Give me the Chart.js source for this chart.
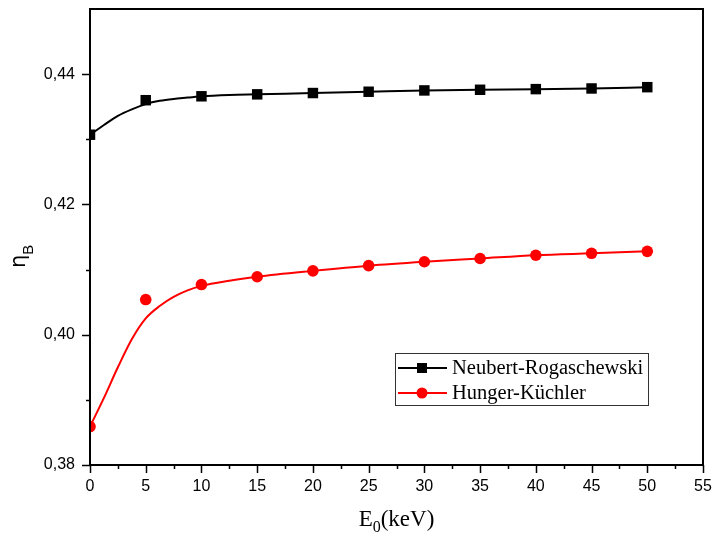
<!DOCTYPE html>
<html>
<head>
<meta charset="utf-8">
<script src="https://cdn.jsdelivr.net/npm/chart.js@4/dist/chart.umd.min.js"></script>
<style>
  html, body { margin: 0; padding: 0; background: #fff; }
  canvas { display: block; }
</style>
</head>
<body>
<canvas id="c" width="715" height="537"></canvas>
<script>
// Primary electron energy E0 (keV)
const energies = [0, 5, 10, 15, 20, 25, 30, 35, 40, 45, 50];

// Backscattering coefficient, measured points
const neubertRogaschewski = [0.4307, 0.4360, 0.4366, 0.4369, 0.4371, 0.4373, 0.4375, 0.4376, 0.4377, 0.4378, 0.4380];
const hungerKuechler      = [0.3859, 0.4054, 0.4077, 0.4089, 0.4098, 0.4106, 0.4112, 0.4117, 0.4122, 0.4125, 0.4128];

// Smoothed fit curves
const fitEnergies = [0, 1.25, 2.5, 3.75, 5, 6.25, 7.5, 8.75, 10, 12.5, 15, 20, 25, 30, 35, 40, 45, 50];
const neubertFit  = [0.4307, 0.4322, 0.4336, 0.4346, 0.4354, 0.4359, 0.4362, 0.4364, 0.4366, 0.4368, 0.4369, 0.4371, 0.4373, 0.4375, 0.4376, 0.4377, 0.4378, 0.4380];
const hungerFit   = [0.3859, 0.3903, 0.3950, 0.3993, 0.4025, 0.4044, 0.4058, 0.4068, 0.4075, 0.4083, 0.4089, 0.4098, 0.4106, 0.4112, 0.4117, 0.4122, 0.4125, 0.4128];

// Axis ticks
const xMajorTicks = [0, 5, 10, 15, 20, 25, 30, 35, 40, 45, 50, 55];
const yMajorTicks = [0.38, 0.40, 0.42, 0.44];
const yMinorTicks = [0.39, 0.41, 0.43];

const seriesNames = ['Neubert-Rogaschewski', 'Hunger-Küchler'];

const BLACK = '#000000';
const RED = '#ff0000';

const pts = (xs, ys) => xs.map((x, i) => ({ x: x, y: ys[i] }));

// Frame, ticks, axis titles and legend
const decorations = {
  id: 'decorations',
  afterDatasetsDraw(chart) {
    const ctx = chart.ctx;
    const a = chart.chartArea;
    const xs = chart.scales.x, ys = chart.scales.y;
    ctx.save();
    ctx.strokeStyle = BLACK;
    ctx.lineWidth = 2;
    ctx.strokeRect(a.left, a.top, a.right - a.left, a.bottom - a.top);

    ctx.lineWidth = 1.5;
    ctx.beginPath();
    xMajorTicks.forEach(v => {
      const p = Math.round(xs.getPixelForValue(v)) + 0.5;
      ctx.moveTo(p, a.bottom); ctx.lineTo(p, a.bottom + 8);
      if (v < 55) {
        const q = Math.round(xs.getPixelForValue(v + 2.5)) + 0.5;
        ctx.moveTo(q, a.bottom); ctx.lineTo(q, a.bottom + 4);
      }
    });
    yMajorTicks.forEach(v => {
      const p = Math.round(ys.getPixelForValue(v)) + 0.5;
      ctx.moveTo(a.left, p); ctx.lineTo(a.left - 8, p);
    });
    yMinorTicks.forEach(v => {
      const p = Math.round(ys.getPixelForValue(v)) + 0.5;
      ctx.moveTo(a.left, p); ctx.lineTo(a.left - 4, p);
    });
    ctx.stroke();

    // x axis title: E0(keV)
    ctx.fillStyle = BLACK;
    ctx.textBaseline = 'alphabetic';
    const big = '23px "Liberation Serif", "Times New Roman", serif';
    const sub = '16px "Liberation Serif", "Times New Roman", serif';
    ctx.font = big;
    const wE = ctx.measureText('E').width;
    const wRest = ctx.measureText('(keV)').width;
    ctx.font = sub;
    const w0 = ctx.measureText('0').width;
    const total = wE + w0 + wRest;
    let tx = (a.left + a.right) / 2 - total / 2;
    const ty = 526;
    ctx.font = big; ctx.fillText('E', tx, ty); tx += wE;
    ctx.font = sub; ctx.fillText('0', tx, ty + 6); tx += w0;
    ctx.font = big; ctx.fillText('(keV)', tx, ty);

    // y axis title: ηB
    ctx.save();
    ctx.translate(25, 268);
    ctx.rotate(-Math.PI / 2);
    ctx.font = '21px "DejaVu Sans", "Liberation Sans", sans-serif';
    ctx.fillText('η', 0, 0);
    const wEta = ctx.measureText('η').width;
    ctx.font = '15px "Liberation Sans", Arial, sans-serif';
    ctx.fillText('B', wEta, 8);
    ctx.restore();

    // legend
    const lx = 395.5, ly = 353.5, lw = 253, lh = 52;
    ctx.lineWidth = 1;
    ctx.strokeStyle = '#333';
    ctx.strokeRect(lx, ly, lw, lh);
    const rows = [
      { name: seriesNames[0], color: BLACK, shape: 'rect', y: 368 },
      { name: seriesNames[1], color: RED, shape: 'circle', y: 393 }
    ];
    ctx.font = '20.5px "Liberation Serif", "Times New Roman", serif';
    ctx.textBaseline = 'middle';
    rows.forEach(r => {
      ctx.strokeStyle = r.color;
      ctx.fillStyle = r.color;
      ctx.lineWidth = 2;
      ctx.beginPath();
      ctx.moveTo(398, r.y); ctx.lineTo(447, r.y);
      ctx.stroke();
      ctx.beginPath();
      if (r.shape === 'rect') {
        ctx.rect(417, r.y - 5, 10, 10);
      } else {
        ctx.arc(422, r.y, 5.5, 0, Math.PI * 2);
      }
      ctx.fill();
      ctx.fillStyle = BLACK;
      ctx.fillText(r.name, 452, r.y + 1);
    });
    ctx.restore();
  }
};

new Chart(document.getElementById('c'), {
  type: 'scatter',
  data: {
    datasets: [
      {
        label: seriesNames[0],
        data: pts(energies, neubertRogaschewski),
        pointStyle: 'rect', pointRadius: 7.4, pointHoverRadius: 7.4,
        backgroundColor: BLACK, borderColor: BLACK, borderWidth: 0,
        showLine: false, order: 0, clip: 0
      },
      {
        label: seriesNames[1],
        data: pts(energies, hungerKuechler),
        pointStyle: 'circle', pointRadius: 5.8, pointHoverRadius: 5.8,
        backgroundColor: RED, borderColor: RED, borderWidth: 0,
        showLine: false, order: 0, clip: 0
      },
      {
        label: seriesNames[0] + ' fit',
        data: pts(fitEnergies, neubertFit),
        showLine: true, pointRadius: 0, borderColor: BLACK, borderWidth: 2,
        cubicInterpolationMode: 'monotone', fill: false, order: 1, clip: 0
      },
      {
        label: seriesNames[1] + ' fit',
        data: pts(fitEnergies, hungerFit),
        showLine: true, pointRadius: 0, borderColor: RED, borderWidth: 2,
        cubicInterpolationMode: 'monotone', fill: false, order: 1, clip: 0
      }
    ]
  },
  options: {
    responsive: false,
    animation: false,
    devicePixelRatio: 1,
    layout: { padding: { top: 9, right: 12, left: 0, bottom: 0 } },
    plugins: { legend: { display: false }, tooltip: { enabled: false } },
    scales: {
      x: {
        type: 'linear', min: 0, max: 55,
        grid: { display: false, drawTicks: false },
        border: { display: false },
        ticks: {
          stepSize: 5, padding: 12, color: BLACK, maxRotation: 0,
          font: { family: '"Liberation Sans", Arial, sans-serif', size: 16 },
          callback: v => String(v)
        },
        afterFit: s => { s.height = 72; s.paddingLeft = 0; s.paddingRight = 0; }
      },
      y: {
        type: 'linear', min: 0.38, max: 0.45,
        grid: { display: false, drawTicks: false },
        border: { display: false },
        ticks: {
          stepSize: 0.01, padding: 15, color: BLACK,
          font: { family: '"Liberation Sans", Arial, sans-serif', size: 16 },
          callback: v => (Math.round(v * 100) % 2 === 0 ? v.toFixed(2).replace('.', ',') : '')
        },
        afterFit: s => { s.width = 90; s.paddingTop = 0; s.paddingBottom = 0; }
      }
    }
  },
  plugins: [decorations]
});
</script>
</body>
</html>
